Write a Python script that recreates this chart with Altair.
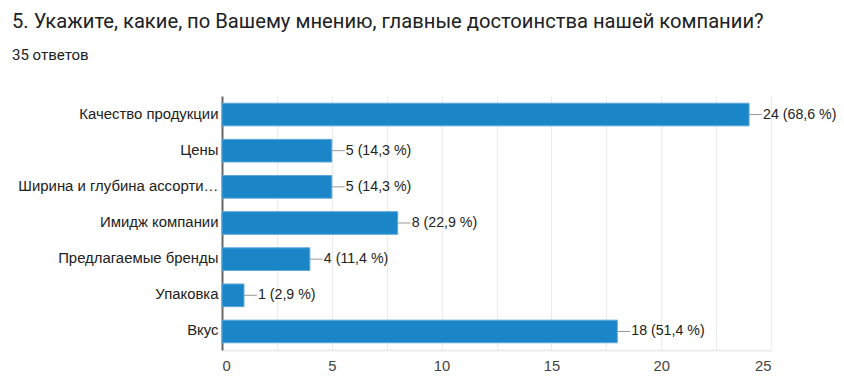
import altair as alt
import pandas as pd

categories = ["Качество продукции", "Цены", "Ширина и глубина ассорти…", "Имидж компании",
              "Предлагаемые бренды", "Упаковка", "Вкус"]
counts = [24, 5, 5, 8, 4, 1, 18]
percents = ["68,6", "14,3", "14,3", "22,9", "11,4", "2,9", "51,4"]
x_ticks = [0, 2.5, 5, 7.5, 10, 12.5, 15, 17.5, 20, 22.5, 25]

df = pd.DataFrame({
    "cat": categories,
    "count": counts,
    "label": [f"{c} ({p} %)" for c, p in zip(counts, percents)],
})

x = alt.X("count:Q", scale=alt.Scale(domain=[0, 25], nice=False),
          axis=alt.Axis(values=x_ticks, title=None, grid=True, gridColor="#ebebeb",
                        gridWidth=1, ticks=False, domain=True, domainColor="#ececec",
                        domainWidth=2, labelExpr="datum.value % 5 == 0 ? datum.label : ''",
                        labelFont="Liberation Sans", labelFontSize=14.8, labelColor="#444444",
                        labelPadding=8))
y = alt.Y("cat:N", sort=categories,
          scale=alt.Scale(paddingInner=0.375, paddingOuter=0.2),
          axis=alt.Axis(title=None, ticks=False, domain=True, domainColor="#666666",
                        domainWidth=2, labelFont="Liberation Sans", labelFontSize=14.9,
                        labelColor="#222222", labelPadding=4, labelLimit=400))

base = alt.Chart(df)
bars = base.mark_bar(color="#1a86c8", stroke="#5aa6d8", strokeWidth=1).encode(x=x, y=y)
rules = base.mark_rule(color="#999999", strokeWidth=1, x2Offset=13).encode(
    x="count:Q", x2="count:Q", y=alt.Y("cat:N", sort=categories, bandPosition=0.5))
texts = base.mark_text(align="left", baseline="middle", dx=14, font="Liberation Sans",
                       fontSize=14.2, color="#222222").encode(
    x="count:Q", y=alt.Y("cat:N", sort=categories), text="label:N")

chart = alt.layer(bars, rules, texts).properties(
    width=549, height=254,
    title=alt.TitleParams(
        text="5. Укажите, какие, по Вашему мнению, главные достоинства нашей компании?",
        subtitle="35 ответов",
        anchor="start", frame="group", dx=-210, offset=33,
        font="Roboto", fontSize=20.2, fontWeight="normal", color="#202124",
        subtitleFont="Roboto", subtitleFontSize=15, subtitleColor="#202124",
        subtitlePadding=16),
    autosize=alt.AutoSizeParams(type="none"),
    padding={"left": 214, "top": 88, "right": 65, "bottom": 26},
).configure_view(stroke=None)

chart.save("out.html", embed_options={"renderer": "svg", "actions": False})
